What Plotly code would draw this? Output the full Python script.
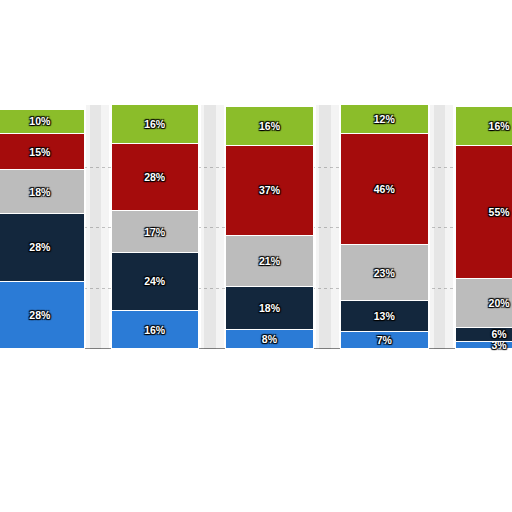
"""Stacked percentage columns (cropped view), five groups, labelled segments."""

import plotly.graph_objects as go

# categories (off-screen labels are not visible in the crop)
groups = [0, 1, 2, 3, 4]

# segment shares, bottom to top
blue = [28, 16, 8, 7, 3]
navy = [28, 24, 18, 13, 6]
grey = [18, 17, 21, 23, 20]
red = [15, 28, 37, 46, 55]
green = [10, 16, 16, 12, 16]

# shadow bands sit in the gaps between columns
gap_pos = [-0.5, 0.5, 1.5, 2.5, 3.5]
gap_height = [101, 101, 101, 101, 101]

series = [
    ("Blue", blue, "#2b7bd6"),
    ("Navy", navy, "#13273d"),
    ("Grey", grey, "#bcbcbc"),
    ("Red", red, "#a50c0c"),
    ("Green", green, "#8bbd2a"),
]

fig = go.Figure()

# soft shadow between the columns (overlay axis so it does not join the stack)
fig.add_trace(
    go.Bar(
        x=gap_pos,
        y=gap_height,
        width=0.2,
        marker=dict(color="rgba(0,0,0,0.045)", line=dict(width=0)),
        xaxis="x2",
        hoverinfo="skip",
        showlegend=False,
    )
)
fig.add_trace(
    go.Bar(
        x=[p - 0.02 for p in gap_pos],
        y=gap_height,
        width=0.1,
        marker=dict(color="rgba(0,0,0,0.055)", line=dict(width=0)),
        xaxis="x2",
        hoverinfo="skip",
        showlegend=False,
    )
)

for name, values, color in series:
    fig.add_trace(
        go.Bar(
            x=groups,
            y=values,
            name=name,
            width=0.765,
            marker=dict(color=color, line=dict(color="#ffffff", width=1)),
            text=[f"{v}%" for v in values],
            textposition="inside",
            insidetextanchor="middle",
            constraintext="none",
            textangle=0,
            textfont=dict(
                family="Liberation Sans",
                size=10.5,
                color="#ffffff",
                weight="bold",
                shadow="1px 1px 1px #000, -1px -1px 1px #000, 1px -1px 1px #000, -1px 1px 1px #000",
            ),
            showlegend=False,
        )
    )

x_range = [-0.350, 4.11]

fig.update_layout(
    width=512,
    height=512,
    barmode="stack",
    plot_bgcolor="#ffffff",
    paper_bgcolor="#ffffff",
    margin=dict(l=0, r=0, t=0, b=0),
    showlegend=False,
    xaxis=dict(
        range=x_range,
        showticklabels=False,
        showgrid=False,
        zeroline=False,
        showline=False,
        ticks="",
    ),
    xaxis2=dict(
        range=x_range,
        overlaying="x",
        visible=False,
    ),
    yaxis=dict(
        range=[-67.4, 144.2],
        tickvals=[25, 50, 75],
        showticklabels=False,
        showgrid=True,
        gridcolor="#c8c8c8",
        griddash="dot",
        gridwidth=1,
        zeroline=True,
        zerolinecolor="#8a8a8a",
        zerolinewidth=1,
        ticks="",
    ),
)

# the crop runs edge to edge, so drop the default page margin
fig.write_html(
    "out.html",
    config={"displayModeBar": False},
    post_script="document.body.style.margin='0';document.body.style.overflow='hidden';",
)
